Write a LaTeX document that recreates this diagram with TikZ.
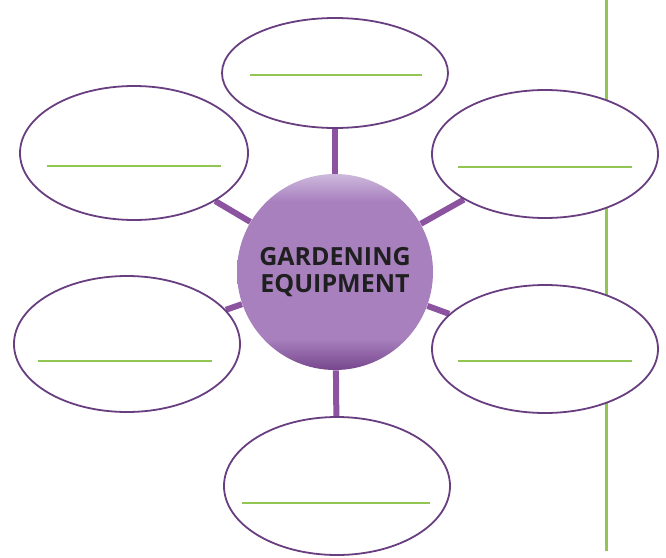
\documentclass[tikz,border=0pt]{standalone}
\usepackage{fontspec}
\newfontfamily\hubfont{Open Sans}
\usetikzlibrary{calc, shapes.geometric, backgrounds}

\definecolor{rimpurple}{RGB}{104,62,128}
\definecolor{spokepurple}{RGB}{140,84,160}
\definecolor{hublight}{RGB}{205,185,220}
\definecolor{hubmid}{RGB}{168,128,190}
\definecolor{hubdark}{RGB}{118,70,140}
\definecolor{leafgreen}{RGB}{146,198,82}

\pgfdeclareverticalshading{hubshade}{100bp}{color(0bp)=(hubdark); color(25bp)=(hubdark);
  color(33bp)=(hubmid); color(68bp)=(hubmid); color(75bp)=(hublight); color(100bp)=(hublight)}

\begin{document}
\begin{tikzpicture}[x=1pt, y=-1pt, thick]
  \useasboundingbox (0, 0) rectangle (666, 557);
  \tikzset{
    bubble/.style={ellipse, draw=rimpurple, line width=1.8pt, fill=white, inner sep=0pt},
    spoke/.style={spokepurple, line width=6pt},
    writeline/.style={leafgreen, line width=2pt},
  }

  % hub in the middle
  \node[circle, minimum size=196pt, inner sep=0pt, shading=hubshade,
        font=\hubfont\bfseries\fontsize{25}{27}\selectfont, text=black!88, align=center]
        (hub) at (335, 272) {GARDENING\\EQUIPMENT};

  % answer bubbles round the hub
  \node[bubble, minimum width=226pt, minimum height=110pt] (top) at (335, 73) {};
  \node[bubble, minimum width=228pt, minimum height=134pt] (ul)  at (134, 153) {};
  \node[bubble, minimum width=226pt, minimum height=128pt] (ur)  at (545, 154) {};
  \node[bubble, minimum width=226pt, minimum height=136pt] (ll)  at (127, 344) {};
  \node[bubble, minimum width=226pt, minimum height=128pt] (lr)  at (545, 349) {};
  \node[bubble, minimum width=226pt, minimum height=138pt] (bot) at (337, 486) {};

  % margin rule on the right
  \coordinate (railtop) at (606, 0);
  \coordinate (railbot) at (606, 551);

  \begin{pgfonlayer}{background}
    \draw[leafgreen, line width=3pt] (railtop) -- (railbot);
    \foreach \b in {top, ul, ur, ll, lr, bot}
      \draw[spoke] (hub) -- (\b);
  \end{pgfonlayer}

  % lines to write on
  \foreach \b/\dy/\l/\r in {top/2/85/87, ul/13/87/87, ur/13/87/87,
                            ll/17/89/85, lr/12/87/87, bot/17/95/93}
    \draw[writeline] ($(\b)+(-\l,\dy)$) -- ($(\b)+(\r,\dy)$);
\end{tikzpicture}
\end{document}
